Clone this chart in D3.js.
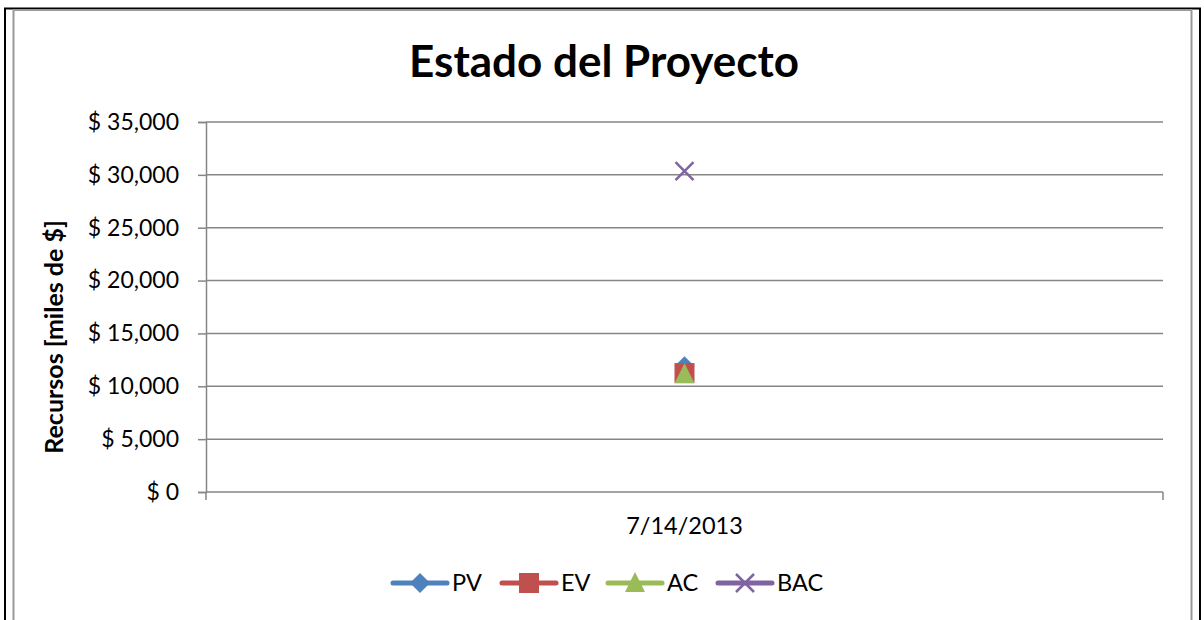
<!DOCTYPE html>
<html><head><meta charset="utf-8">
<script src="https://cdn.jsdelivr.net/npm/d3@7"></script>
<style>body{margin:0;background:#fff}svg{display:block}</style>
</head><body>
<script>
const categories = ["7/14/2013"];
const seriesNames = ["PV", "EV", "AC", "BAC"];
const PV = [11900];
const EV = [11250];
const AC = [11150];
const BAC = [30350];
const yTicks = [0, 5000, 10000, 15000, 20000, 25000, 30000, 35000];
const colors = ["#4F81BD", "#C0504D", "#9BBB59", "#8064A2"];
const seriesValues = [PV, EV, AC, BAC];

const W = 1204, H = 620;
const font = "Lato, 'Open Sans', sans-serif";
const svg = d3.select("body").append("svg").attr("width", W).attr("height", H);
svg.append("rect").attr("width", W).attr("height", H).attr("fill", "#fff");
// outer borders
svg.append("rect").attr("x", 5).attr("y", 8.5).attr("width", 1195).attr("height", 640)
  .attr("fill", "none").attr("stroke", "#000").attr("stroke-width", 2);
svg.append("rect").attr("x", 13.5).attr("y", 10).attr("width", 1178).attr("height", 640)
  .attr("fill", "none").attr("stroke", "#999").attr("stroke-width", 2);

const m = {l: 206, r: 1163, t: 122, b: 492};
const x = d3.scaleBand().domain(categories).range([m.l, m.r]);
const y = d3.scaleLinear().domain([0, 35000]).range([m.b, m.t]);

// gridlines
svg.append("g").selectAll("line").data(yTicks.filter(d => d > 0)).join("line")
  .attr("x1", m.l).attr("x2", m.r).attr("y1", d => y(d)).attr("y2", d => y(d))
  .attr("stroke", "#868686").attr("stroke-width", 1.5);

// y axis
const yAxis = d3.axisLeft(y).tickValues(yTicks).tickSize(8).tickPadding(19)
  .tickFormat(d => "$ " + d3.format(",")(d));
const gy = svg.append("g").attr("transform", `translate(${m.l},0)`).call(yAxis);
gy.select(".domain").attr("stroke", "#868686").attr("stroke-width", 1.5);
gy.selectAll(".tick line").attr("stroke", "#868686").attr("stroke-width", 1.5);
gy.selectAll("text").attr("font-family", font).attr("font-size", 23).attr("fill", "#000");

// x axis
const xAxis = d3.axisBottom(x).tickSize(0).tickPadding(25);
const gx = svg.append("g").attr("transform", `translate(0,${m.b})`).call(xAxis);
gx.select(".domain").remove();
gx.append("line").attr("x1", m.l).attr("x2", m.r).attr("stroke", "#868686").attr("stroke-width", 1.5);
gx.selectAll(".edge").data([m.l, m.r]).join("line").attr("class", "edge")
  .attr("x1", d => d).attr("x2", d => d).attr("y1", 0).attr("y2", 8)
  .attr("stroke", "#868686").attr("stroke-width", 1.5);
gx.selectAll(".tick text").attr("font-family", font).attr("font-size", 23.5).attr("fill", "#000");

// title
svg.append("text").attr("x", 604).attr("y", 77).attr("text-anchor", "middle")
  .attr("font-family", font).attr("font-weight", "bold").attr("font-size", 44)
  .text("Estado del Proyecto");
// y title
svg.append("text").attr("transform", "translate(63,337) rotate(-90)").attr("text-anchor", "middle")
  .attr("font-family", font).attr("font-weight", "bold").attr("font-size", 25)
  .text("Recursos [miles de $]");

function drawSym(g, i, cx, cy) {
  let p;
  if (i === 0) p = "M0,-10L10,0L0,10L-10,0Z";
  else if (i === 1) p = "M-10,-10H10V10H-10Z";
  else if (i === 2) p = "M0,-11L10,9H-10Z";
  else p = "M-9,-9L9,9M9,-9L-9,9";
  const el = g.append("path").attr("d", p).attr("transform", `translate(${cx},${cy})`);
  if (i === 3) el.attr("fill", "none").attr("stroke", colors[i]).attr("stroke-width", 2.5);
  else el.attr("fill", colors[i]);
}

// points
const gp = svg.append("g");
seriesValues.forEach((vals, i) => {
  vals.forEach((v, j) => {
    drawSym(gp, i, x(categories[j]) + x.bandwidth() / 2, y(v));
  });
});

// legend
const legX = [393, 502, 608, 718];
const legY = 583;
const gl = svg.append("g");
seriesNames.forEach((n, i) => {
  gl.append("line").attr("x1", legX[i]).attr("x2", legX[i] + 54).attr("y1", legY).attr("y2", legY)
    .attr("stroke", colors[i]).attr("stroke-width", 5).attr("stroke-linecap", "round");
  drawSym(gl, i, legX[i] + 27, legY);
  gl.append("text").attr("x", legX[i] + 59).attr("y", legY + 8).attr("font-family", font)
    .attr("font-size", 23.5).text(n);
});
</script>
</body></html>
